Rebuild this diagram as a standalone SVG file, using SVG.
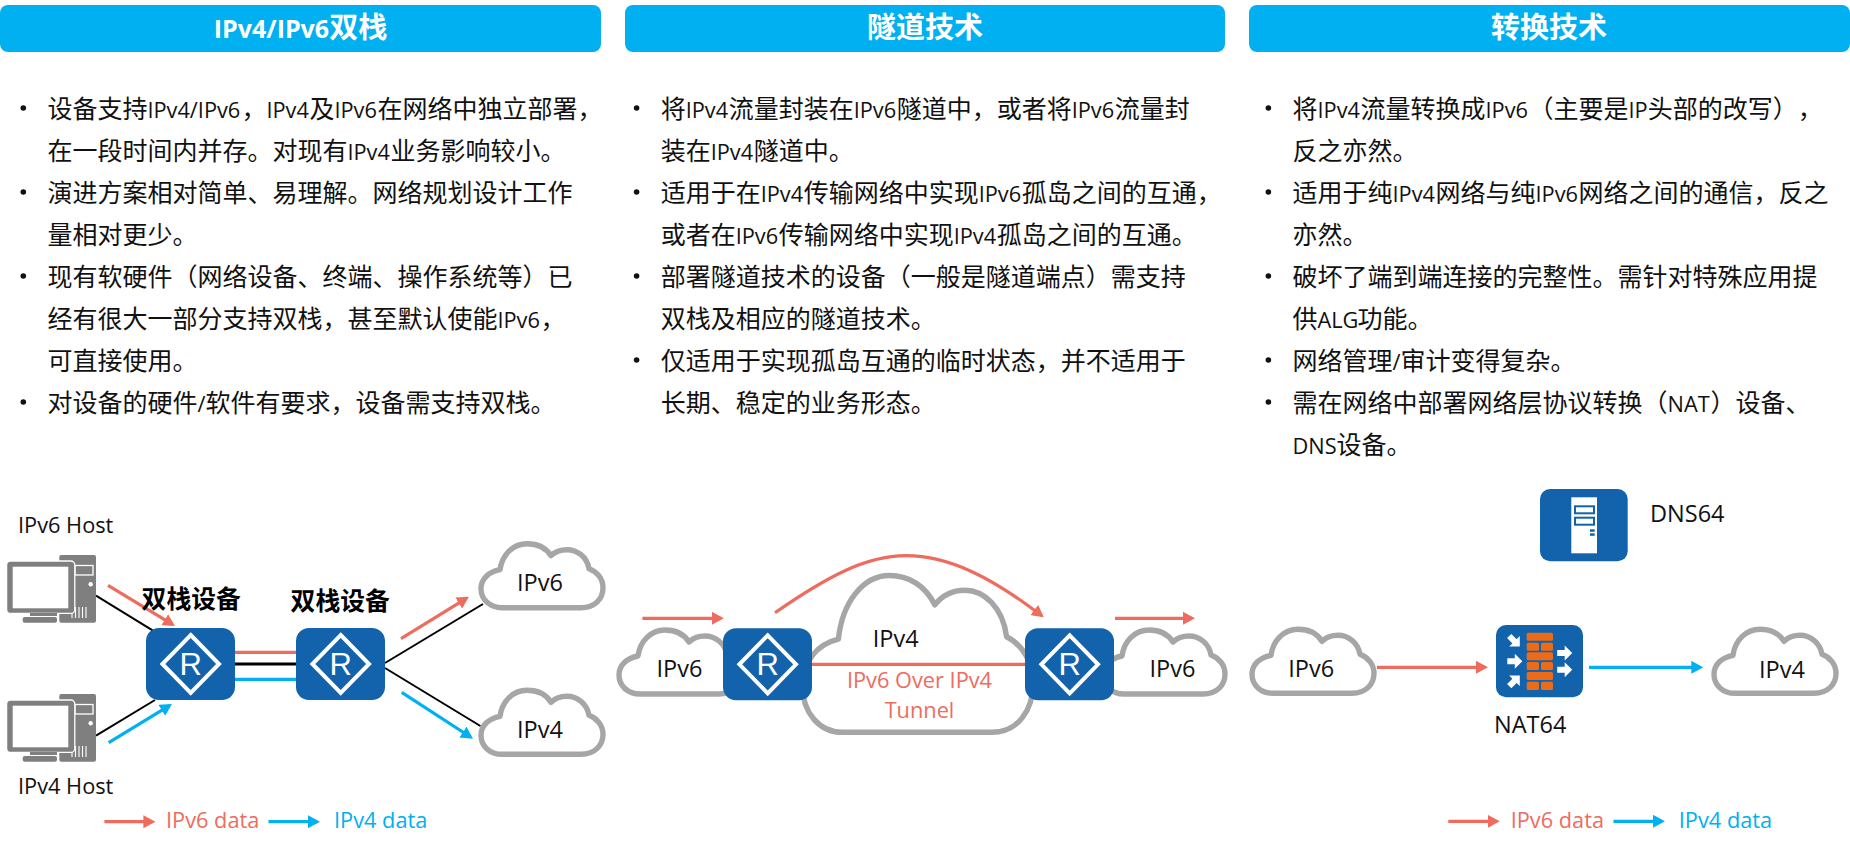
<svg xmlns="http://www.w3.org/2000/svg" xmlns:xlink="http://www.w3.org/1999/xlink" width="1850" height="852" viewBox="0 0 1850 852">
<style>
text{font-family:"Noto Sans CJK SC","Open Sans",sans-serif;fill:#111}
.b{font-size:25px}
.l{font-family:"Open Sans","Noto Sans CJK SC",sans-serif;font-size:21.75px}
.h{font-size:29px;font-weight:700;fill:#fff;text-anchor:middle}
.h .l{font-size:25px}
.hb{fill:#00b0f0}
.lab{font-family:"Open Sans","Liberation Sans",sans-serif;font-size:21.75px}
.cl{font-family:"Open Sans","Liberation Sans",sans-serif;font-size:23.5px}
.red{fill:#ee6c5e}.blue{fill:#00b0f0}
.dot{fill:#111}
.cloud{fill:#fff;stroke:#a6a6a6;stroke-width:5.4;vector-effect:non-scaling-stroke;stroke-linejoin:round}
.box{fill:#1263ac}
.dia{fill:none;stroke:#fff;stroke-width:4}
.rt{font-family:"Liberation Sans",sans-serif;font-size:31px;fill:#fff;text-anchor:middle}
.dev{font-size:24.8px;font-weight:700;fill:#000}
.k{stroke:#000;stroke-width:2;fill:none}
.k3{stroke:#000;stroke-width:3;fill:none}
.r{stroke:#ee6c5e;stroke-width:3.2;fill:none}
.c{stroke:#00b0f0;stroke-width:3.2;fill:none}
.ra{marker-end:url(#mr)}.ca{marker-end:url(#mb)}
.g{fill:#7f7f7f}
.br{fill:#ec6b18}
.wa{fill:#fff}
</style>
<defs>
<marker id="mr" markerUnits="userSpaceOnUse" viewBox="0 0 12 13" refX="9" refY="6.5" markerWidth="12" markerHeight="13" orient="auto"><path d="M0,0L12,6.5L0,13Z" fill="#ee6c5e"/></marker>
<marker id="mb" markerUnits="userSpaceOnUse" viewBox="0 0 12 13" refX="9" refY="6.5" markerWidth="12" markerHeight="13" orient="auto"><path d="M0,0L12,6.5L0,13Z" fill="#00b0f0"/></marker>
<path id="cloud" class="cloud" d="M23,66H102C116,66 124,57 124,46C124,37 118,30 110,27C108,15 98,8 88,8C82,8 76,10 72,14C67,6 58,2 48,2C34,2 23,13 21,28C10,30 2,37 2,47C2,58 11,66 23,66Z"/>
<g id="router"><rect class="box" x="0" y="0" width="89" height="72" rx="13"/><path class="dia" d="M44.7,7L73,36L44.7,65L16.4,36Z"/><text class="rt" x="44.7" y="47">R</text></g>
<g id="host">
<rect class="g" x="59.3" y="555" width="36.7" height="67.7" rx="2"/>
<rect x="75" y="565.5" width="18" height="9.5" fill="none" stroke="#fff" stroke-width="1.3"/>
<circle cx="90.7" cy="584.3" r="2.2" fill="#fff"/>
<path d="M72,607V618M75.5,607V618M79,607V618M82.5,607V618M86,607V618" stroke="#fff" stroke-width="1.1" fill="none"/>
<rect x="6.6" y="561" width="68.2" height="52.4" rx="4" class="g" stroke="#fff" stroke-width="1.3"/>
<rect x="12.7" y="566.7" width="55.6" height="41.6" fill="#fff"/>
<rect class="g" x="30" y="613" width="27" height="3"/>
<rect class="g" x="22.7" y="617" width="34.3" height="5.7" rx="2"/>
</g>
<path id="wa" class="wa" d="M-7.5,-3H0V-7.5L7.5,0L0,7.5V3H-7.5Z"/>
</defs>

<g id="header-1"><rect class="hb" x="0" y="5" width="601" height="47" rx="8"/><text class="h" x="300.5" y="38"><tspan class="l">IPv4/IPv6</tspan>双栈</text></g>
<g id="header-2"><rect class="hb" x="625" y="5" width="600" height="47" rx="8"/><text class="h" x="925" y="38">隧道技术</text></g>
<g id="header-3"><rect class="hb" x="1249" y="5" width="601" height="47" rx="8"/><text class="h" x="1549" y="38">转换技术</text></g>

<g id="text-1">
<circle class="dot" cx="23.3" cy="108" r="2.8"/><circle class="dot" cx="23.3" cy="192" r="2.8"/><circle class="dot" cx="23.3" cy="276" r="2.8"/><circle class="dot" cx="23.3" cy="402" r="2.8"/>
<text class="b" y="118"><tspan x="47.4">设备支持</tspan><tspan class="l" x="147.4">IPv4/IPv6</tspan><tspan x="241.4">，</tspan><tspan class="l" x="266.4">IPv4</tspan><tspan x="309.4">及</tspan><tspan class="l" x="334.4">IPv6</tspan><tspan x="377.4">在网络中独立部署，</tspan></text>
<text class="b" y="160"><tspan x="47.4">在一段时间内并存。对现有</tspan><tspan class="l" x="347.4">IPv4</tspan><tspan x="390.4">业务影响较小。</tspan></text>
<text class="b" x="47.4" y="202">演进方案相对简单、易理解。网络规划设计工作</text>
<text class="b" x="47.4" y="244">量相对更少。</text>
<text class="b" x="47.4" y="286">现有软硬件（网络设备、终端、操作系统等）已</text>
<text class="b" y="328"><tspan x="47.4">经有很大一部分支持双栈，甚至默认使能</tspan><tspan class="l" x="497.4">IPv6</tspan><tspan x="540.4">，</tspan></text>
<text class="b" x="47.4" y="370">可直接使用。</text>
<text class="b" y="412"><tspan x="47.4">对设备的硬件</tspan><tspan class="l" x="197.4">/</tspan><tspan x="205.4">软件有要求，设备需支持双栈。</tspan></text>
</g>

<g id="text-2">
<circle class="dot" cx="636.6" cy="108" r="2.8"/><circle class="dot" cx="636.6" cy="192" r="2.8"/><circle class="dot" cx="636.6" cy="276" r="2.8"/><circle class="dot" cx="636.6" cy="360" r="2.8"/>
<text class="b" y="118"><tspan x="660.7">将</tspan><tspan class="l" x="685.7">IPv4</tspan><tspan x="728.7">流量封装在</tspan><tspan class="l" x="853.7">IPv6</tspan><tspan x="896.7">隧道中，或者将</tspan><tspan class="l" x="1071.7">IPv6</tspan><tspan x="1114.7">流量封</tspan></text>
<text class="b" y="160"><tspan x="660.7">装在</tspan><tspan class="l" x="710.7">IPv4</tspan><tspan x="753.7">隧道中。</tspan></text>
<text class="b" y="202"><tspan x="660.7">适用于在</tspan><tspan class="l" x="760.7">IPv4</tspan><tspan x="803.7">传输网络中实现</tspan><tspan class="l" x="978.7">IPv6</tspan><tspan x="1021.7">孤岛之间的互通，</tspan></text>
<text class="b" y="244"><tspan x="660.7">或者在</tspan><tspan class="l" x="735.7">IPv6</tspan><tspan x="778.7">传输网络中实现</tspan><tspan class="l" x="953.7">IPv4</tspan><tspan x="996.7">孤岛之间的互通。</tspan></text>
<text class="b" x="660.7" y="286">部署隧道技术的设备（一般是隧道端点）需支持</text>
<text class="b" x="660.7" y="328">双栈及相应的隧道技术。</text>
<text class="b" x="660.7" y="370">仅适用于实现孤岛互通的临时状态，并不适用于</text>
<text class="b" x="660.7" y="412">长期、稳定的业务形态。</text>
</g>

<g id="text-3">
<circle class="dot" cx="1268.4" cy="108" r="2.8"/><circle class="dot" cx="1268.4" cy="192" r="2.8"/><circle class="dot" cx="1268.4" cy="276" r="2.8"/><circle class="dot" cx="1268.4" cy="360" r="2.8"/><circle class="dot" cx="1268.4" cy="402" r="2.8"/>
<text class="b" y="118"><tspan x="1292.5">将</tspan><tspan class="l" x="1317.5">IPv4</tspan><tspan x="1360.5">流量转换成</tspan><tspan class="l" x="1485.5">IPv6</tspan><tspan x="1528.5">（主要是</tspan><tspan class="l" x="1628.5">IP</tspan><tspan x="1647.7">头部的改写）</tspan><tspan x="1797.7">，</tspan></text>
<text class="b" x="1292.5" y="160">反之亦然。</text>
<text class="b" y="202"><tspan x="1292.5">适用于纯</tspan><tspan class="l" x="1392.5">IPv4</tspan><tspan x="1435.5">网络与纯</tspan><tspan class="l" x="1535.5">IPv6</tspan><tspan x="1578.5">网络之间的通信，反之</tspan></text>
<text class="b" x="1292.5" y="244">亦然。</text>
<text class="b" x="1292.5" y="286">破坏了端到端连接的完整性。需针对特殊应用提</text>
<text class="b" y="328"><tspan x="1292.5">供</tspan><tspan class="l" x="1317.5">ALG</tspan><tspan x="1357.5">功能。</tspan></text>
<text class="b" y="370"><tspan x="1292.5">网络管理</tspan><tspan class="l" x="1392.5">/</tspan><tspan x="1400.5">审计变得复杂。</tspan></text>
<text class="b" y="412"><tspan x="1292.5">需在网络中部署网络层协议转换（</tspan><tspan class="l" x="1667.5">NAT</tspan><tspan x="1710.5">）设备、</tspan></text>
<text class="b" y="454"><tspan class="l" x="1292.5">DNS</tspan><tspan x="1336.5">设备。</tspan></text>
</g>

<g id="cloud-ds-ipv6"><use href="#cloud" transform="translate(479,541.7)"/><text class="cl" x="517" y="591">IPv6</text></g>
<g id="cloud-ds-ipv4"><use href="#cloud" transform="translate(479,688.3)"/><text class="cl" x="517" y="738">IPv4</text></g>
<g id="cloud-t-left"><use href="#cloud" transform="translate(617,628)"/><text class="cl" x="656.5" y="677.3">IPv6</text></g>
<g id="cloud-t-right"><use href="#cloud" transform="translate(1101,628)"/><text class="cl" x="1149.5" y="677.3">IPv6</text></g>
<g id="cloud-t-ipv4"><use href="#cloud" transform="translate(798.7,570.6) scale(1.89,2.45)"/><text class="cl" x="872.7" y="646.7">IPv4</text></g>
<g id="cloud-n-ipv6"><use href="#cloud" transform="translate(1250,627.3)"/><text class="cl" x="1288.3" y="677.3">IPv6</text></g>
<g id="cloud-n-ipv4"><use href="#cloud" transform="translate(1712,627.3)"/><text class="cl" x="1759" y="678.3">IPv4</text></g>

<g id="connectors">
<path class="k" d="M96,595.7L153,630.7"/>
<path class="k" d="M96,735.7L155,700"/>
<path class="k" d="M385,663L483,604"/>
<path class="k" d="M385,668L480.4,726"/>
<path class="r" d="M235,652.3H296"/>
<path class="k3" d="M235,664H296"/>
<path class="c" d="M235,679.3H296"/>
<path class="r ra" d="M108,585.3L172.4,624.4"/>
<path class="c ca" d="M108.7,742.7L169.4,705.6"/>
<path class="r ra" d="M401,638.7L466.4,598.3"/>
<path class="c ca" d="M401.7,692.3L470.5,737"/>
<path class="r ra" d="M104.4,821.7H152.4"/>
<path class="c ca" d="M268.5,821.7H317"/>
<path class="r ra" d="M642.4,618.3H720.9"/>
<path class="r ra" d="M1115,618.3H1192"/>
<path class="r ra" d="M775,612.7C825,578 865,555.7 906,555.7C950,555.7 993,578.5 1041.4,615.5"/>
<path class="r" d="M811,664.3H1025"/>
<path class="r ra" d="M1377,667.3H1485"/>
<path class="c ca" d="M1589,667.3H1700.3"/>
<path class="r ra" d="M1448.3,821.3H1496.7"/>
<path class="c ca" d="M1613.5,821.3H1662"/>
</g>

<g id="host-ipv6"><use href="#host"/><text class="lab" x="18" y="533.3">IPv6 Host</text></g>
<g id="host-ipv4"><use href="#host" transform="translate(0,139)"/><text class="lab" x="18" y="794">IPv4 Host</text></g>
<g id="router-ds-1"><use href="#router" transform="translate(146,628)"/><text class="dev" x="141.6" y="607.5">双栈设备</text></g>
<g id="router-ds-2"><use href="#router" transform="translate(296,628)"/><text class="dev" x="290.6" y="609.5">双栈设备</text></g>
<g id="router-t-1"><use href="#router" transform="translate(723,628.3)"/></g>
<g id="router-t-2"><use href="#router" transform="translate(1025,628.3)"/></g>
<g id="tunnel-label"><text class="lab red" x="919.5" y="687.7" text-anchor="middle">IPv6 Over IPv4</text><text class="lab red" x="919.5" y="717.7" text-anchor="middle">Tunnel</text></g>

<g id="nat64">
<rect class="box" x="1496" y="625" width="87" height="72.3" rx="10"/>
<g class="br">
<rect x="1526.7" y="632.7" width="26.3" height="8" rx="1.5"/>
<rect x="1526.7" y="642.7" width="12.3" height="8" rx="1.5"/><rect x="1541" y="642.7" width="12" height="8" rx="1.5"/>
<rect x="1526.7" y="652.3" width="26.3" height="8" rx="1.5"/>
<rect x="1526.7" y="662" width="12.3" height="8" rx="1.5"/><rect x="1541" y="662" width="12" height="8" rx="1.5"/>
<rect x="1526.7" y="672" width="26.3" height="8" rx="1.5"/>
<rect x="1526.7" y="681.7" width="12.3" height="8.3" rx="1.5"/><rect x="1541" y="681.7" width="12" height="8.3" rx="1.5"/>
</g>
<use href="#wa" transform="translate(1514.5,641.3) rotate(45)"/>
<use href="#wa" transform="translate(1514.8,661.3)"/>
<use href="#wa" transform="translate(1514.5,680.8) rotate(-45)"/>
<use href="#wa" transform="translate(1564.7,653)"/>
<use href="#wa" transform="translate(1564.7,669.7)"/>
<text class="cl" x="1494" y="732.7">NAT64</text>
</g>

<g id="dns64">
<rect class="box" x="1540" y="489" width="87.7" height="72.3" rx="10"/>
<rect x="1571.3" y="497.3" width="25.7" height="56" fill="#fff"/>
<rect x="1575" y="506.3" width="19" height="7" fill="#fff" stroke="#1263ac" stroke-width="2"/>
<rect x="1575" y="517.7" width="19" height="7" fill="#fff" stroke="#1263ac" stroke-width="2"/>
<rect class="box" x="1590" y="529.3" width="4.7" height="2.5"/><rect class="box" x="1590" y="533.3" width="4.7" height="2.5"/>
<text class="cl" x="1650" y="521.7">DNS64</text>
</g>

<g id="legend-1"><text class="lab red" x="166" y="828.3">IPv6 data</text><text class="lab blue" x="334" y="828.3">IPv4 data</text></g>
<g id="legend-2"><text class="lab red" x="1510.7" y="828.3">IPv6 data</text><text class="lab blue" x="1678.8" y="828.3">IPv4 data</text></g>
</svg>
